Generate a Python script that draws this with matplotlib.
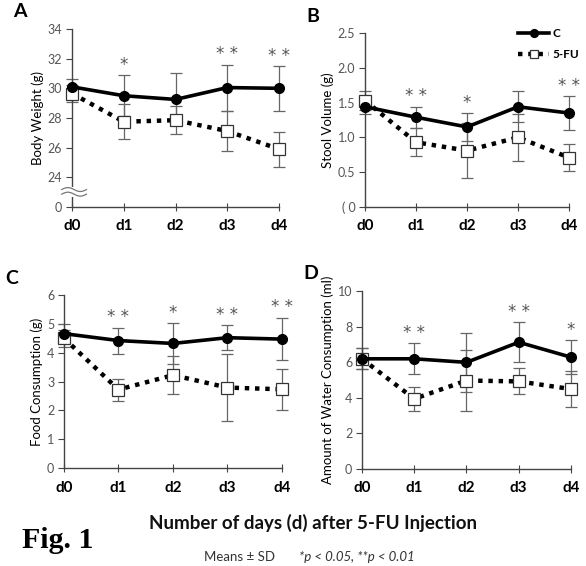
import numpy as np
import matplotlib
matplotlib.use('Agg')
import matplotlib.pyplot as plt

plt.rcParams['font.family'] = ['Lato', 'DejaVu Sans']

days = ['d0', 'd1', 'd2', 'd3', 'd4']

# A - body weight (g); 0 on the broken axis is drawn at 22
bw_c = [30.1, 29.5, 29.25, 30.05, 30.0]
bw_c_sd = [0.55, 1.4, 1.75, 1.55, 1.5]
bw_fu = [29.65, 27.75, 27.85, 27.12, 25.9]
bw_fu_sd = [0.6, 1.18, 0.95, 1.35, 1.18]
bw_sig = ['', '*', '', '* *', '* *']

# B - stool volume (g)
sv_c = [1.44, 1.29, 1.15, 1.44, 1.35]
sv_c_sd = [0.1, 0.15, 0.2, 0.22, 0.24]
sv_fu = [1.53, 0.93, 0.81, 1.0, 0.71]
sv_fu_sd = [0.14, 0.2, 0.4, 0.34, 0.19]
sv_sig = ['', '* *', '*', '', '* *']

# C - food consumption (g)
fc_c = [4.66, 4.42, 4.32, 4.52, 4.47]
fc_c_sd = [0.33, 0.45, 0.7, 0.44, 0.74]
fc_fu = [4.5, 2.72, 3.22, 2.79, 2.73]
fc_fu_sd = [0.3, 0.38, 0.66, 1.16, 0.72]
fc_sig = ['', '* *', '*', '* *', '* *']

# D - water consumption (ml)
wc_c = [6.19, 6.19, 5.99, 7.12, 6.28]
wc_c_sd = [0.6, 0.88, 1.65, 1.12, 0.97]
wc_fu = [6.19, 3.94, 4.97, 4.92, 4.49]
wc_fu_sd = [0.6, 0.67, 1.7, 0.73, 1.03]
wc_sig = ['', '* *', '', '* *', '*']

fig = plt.figure(figsize=(5.86, 5.66), dpi=100)

panels = [
    ('A', [0.1229, 0.6343, 0.3532, 0.3145], bw_c, bw_c_sd, bw_fu, bw_fu_sd, bw_sig,
     'Body Weight (g)', (22, 34), [22, 24, 26, 28, 30, 32, 34], ['0', '24', '26', '28', '30', '32', '34']),
    ('B', [0.6229, 0.6343, 0.3481, 0.3074], sv_c, sv_c_sd, sv_fu, sv_fu_sd, sv_sig,
     'Stool Volume (g)', (0, 2.5), [0, 0.5, 1.0, 1.5, 2.0, 2.5], ['( 0', '0.5', '1.0', '1.5', '2.0', '2.5']),
    ('C', [0.1092, 0.1731, 0.3720, 0.3057], fc_c, fc_c_sd, fc_fu, fc_fu_sd, fc_sig,
     'Food Consumption (g)', (0, 6), [0, 1, 2, 3, 4, 5, 6], ['0', '1', '2', '3', '4', '5', '6']),
    ('D', [0.6177, 0.1714, 0.3567, 0.3145], wc_c, wc_c_sd, wc_fu, wc_fu_sd, wc_sig,
     'Amount of Water Consumption (ml)', (0, 10), [0, 2, 4, 6, 8, 10], ['0', '2', '4', '6', '8', '10']),
]

x = np.arange(len(days))
axes = {}
for letter, rect, c, c_sd, fu, fu_sd, sig, ylab, ylim, yt, ytl in panels:
    ax = fig.add_axes(rect)
    axes[letter] = ax
    ax.errorbar(x, fu, yerr=fu_sd, fmt='none', ecolor='#666666', elinewidth=0.9,
                capsize=4, capthick=0.9, zorder=2, clip_on=False)
    ax.errorbar(x, c, yerr=c_sd, fmt='none', ecolor='#666666', elinewidth=0.9,
                capsize=4, capthick=0.9, zorder=2, clip_on=False)
    ax.plot(x, fu, linestyle=(0, (1, 1.3)), color='black', lw=3.2, marker='s',
            markersize=8, markerfacecolor='white', markeredgecolor='#333333',
            markeredgewidth=0.9, zorder=3, clip_on=False, label='5-FU')
    ax.plot(x, c, '-', color='black', lw=2.6, marker='o', markersize=7,
            zorder=4, clip_on=False, label='C')
    for xi, yi, sd, s in zip(x, c, c_sd, sig):
        if s:
            ax.annotate(s, (xi, yi + sd), xytext=(0, 1), textcoords='offset points',
                        ha='center', va='bottom', fontsize=12, color='#555555',
                        family='DejaVu Sans')
    ax.set_xlim(0, 4)
    ax.set_ylim(*ylim)
    ax.set_yticks(yt)
    ax.set_yticklabels(ytl)
    ax.set_xticks(x)
    ax.set_xticklabels(days, fontweight='bold', fontsize=11)
    ax.tick_params(axis='y', direction='out', length=4, labelsize=9, colors='#444444',
                   labelcolor='#555555', pad=3)
    ax.tick_params(axis='x', direction='inout', length=6, colors='#444444',
                   labelcolor='black', pad=6)
    for sp in ['top', 'right']:
        ax.spines[sp].set_visible(False)
    for sp in ['left', 'bottom']:
        ax.spines[sp].set_color('#444444')
        ax.spines[sp].set_linewidth(1.0)
    ax.set_ylabel(ylab, fontsize=9.5, labelpad=3)
    ax.patch.set_alpha(0)
    fig.text(rect[0] - 0.1, rect[1] + rect[3] + 0.015, letter, fontsize=14,
             fontweight='bold', ha='left', va='bottom')

# broken axis sign in A: gap in the spine plus two wavy strokes
axA = axes['A']
axA.plot([0, 0], [0.055, 0.115], color='white', lw=3, transform=axA.transAxes,
         clip_on=False, zorder=5, solid_capstyle='butt')
t = np.linspace(-0.05, 0.07, 80)
wave = 0.011 * np.sin((t + 0.05) / 0.12 * 2 * np.pi)
for mid in (0.098, 0.072):
    axA.plot(t, mid + wave, color='#777777', lw=0.9, transform=axA.transAxes,
             clip_on=False, zorder=6)

h, l = axes['B'].get_legend_handles_labels()
leg = axes['B'].legend(h[::-1], l[::-1], loc='upper right', bbox_to_anchor=(1.08, 1.06),
                       frameon=False, fontsize=8.5, handlelength=2.6, labelspacing=0.8,
                       handletextpad=0.3, borderpad=0, markerscale=0.8)
for txt in leg.get_texts():
    txt.set_fontweight('bold')

fig.text(0.534, 0.076, 'Number of days (d) after 5-FU Injection', ha='center',
         va='center', fontsize=13.5, fontweight='bold', color='#111111')
fig.text(0.038, 0.045, 'Fig. 1', ha='left', va='center', fontsize=21.5,
         fontweight='bold', family=['Liberation Serif', 'DejaVu Serif'])
fig.text(0.47, 0.016, 'Means \u00b1 SD', ha='right', va='center', fontsize=9.5,
         color='#333333')
fig.text(0.51, 0.016, '*p < 0.05, **p < 0.01', ha='left', va='center', fontsize=9.5,
         color='#333333', style='italic')

fig.savefig('out.png', dpi=100)
